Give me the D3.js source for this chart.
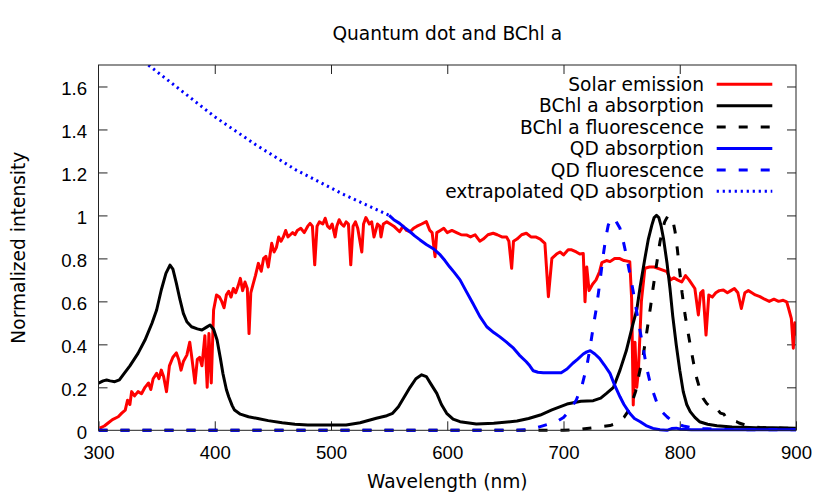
<!DOCTYPE html>
<html>
<head>
<meta charset="utf-8">
<script src="https://cdn.jsdelivr.net/npm/d3@7"></script>
<style>
  body { margin: 0; background: #fff; }
  svg { display: block; font-family: "DejaVu Sans", sans-serif; }
</style>
</head>
<body>
<svg width="830" height="498"></svg>
<script>
  // Series: [wavelength (nm), normalized intensity]
  const solar = [[301,0.01],[305,0.02],[308,0.033],[312,0.05],[317,0.063],[320,0.08],[323,0.094],[325,0.14],[327,0.12],[328.5,0.18],[331,0.16],[334,0.18],[337,0.17],[340,0.2],[343,0.22],[345,0.19],[347,0.24],[350,0.265],[352,0.24],[354,0.28],[356,0.25],[358.5,0.18],[361,0.3],[364,0.34],[367,0.36],[369,0.33],[371,0.28],[373,0.32],[376,0.35],[378.5,0.41],[380,0.35],[383,0.22],[385,0.33],[387,0.34],[389,0.3],[391.5,0.44],[393.5,0.2],[395,0.45],[397,0.22],[399,0.56],[401.5,0.63],[404,0.62],[406,0.6],[408,0.57],[410,0.63],[412,0.647],[414,0.62],[416,0.66],[418,0.64],[420,0.67],[422,0.707],[424,0.65],[426,0.69],[428,0.66],[429.5,0.45],[431,0.64],[433,0.68],[435,0.72],[437.5,0.777],[440,0.74],[442,0.8],[444,0.81],[446,0.76],[449,0.87],[451,0.83],[453,0.85],[455,0.9],[457,0.88],[459,0.9],[461,0.93],[463,0.9],[465,0.91],[467,0.92],[469,0.91],[471,0.93],[474,0.94],[477,0.92],[480,0.95],[482,0.963],[484,0.95],[486,0.77],[488,0.95],[490,0.97],[493,0.96],[495,0.987],[497,0.95],[499,0.94],[501,0.96],[503.5,0.9],[505,0.95],[507,0.98],[509,0.96],[511,0.95],[513,0.97],[515,0.96],[517,0.77],[519,0.95],[521,0.97],[523,0.94],[526.5,0.83],[528,0.96],[530,0.99],[533,0.96],[535,0.97],[537,0.9],[540,0.96],[542,0.95],[543,0.9],[545,0.96],[548,0.97],[551,0.96],[554,0.95],[559,0.924],[562,0.95],[565,0.93],[568,0.924],[571,0.94],[574,0.95],[578,0.96],[582,0.971],[585,0.93],[587,0.92],[589.5,0.808],[591,0.92],[594,0.93],[597,0.94],[600,0.92],[604,0.93],[608,0.92],[612,0.91],[616.5,0.909],[620,0.9],[624,0.91],[628,0.88],[631,0.89],[635,0.91],[639.5,0.917],[643,0.91],[647,0.9],[651,0.9],[653,0.88],[655.4,0.754],[657,0.88],[660,0.89],[664,0.91],[668,0.917],[672,0.9],[676,0.9],[680,0.89],[684,0.87],[687,0.622],[690,0.8],[694,0.82],[697,0.83],[700,0.816],[704,0.84],[707,0.84],[711,0.83],[714,0.82],[717,0.823],[718.5,0.598],[720,0.76],[722,0.65],[725,0.68],[728,0.7],[731,0.738],[733,0.78],[737,0.79],[740,0.785],[744,0.8],[748,0.8],[752,0.79],[757,0.785],[758.6,0.614],[760,0.118],[761.5,0.41],[763,0.2],[764.4,0.273],[767,0.6],[770,0.754],[774,0.76],[778,0.76],[783,0.75],[789,0.738],[792,0.7],[795,0.71],[798,0.7],[801.7,0.69],[805,0.72],[808,0.7],[813,0.66],[816,0.537],[818,0.64],[820,0.65],[822.6,0.443],[825,0.63],[828,0.62],[831,0.64],[834,0.65],[837.5,0.653],[841,0.64],[844,0.65],[847,0.66],[850,0.64],[853,0.567],[856,0.64],[859,0.65],[862,0.64],[865,0.63],[869,0.622],[873,0.61],[877,0.6],[881,0.61],[885,0.6],[889,0.605],[892,0.598],[894,0.56],[896,0.52],[897.7,0.382],[899,0.5],[900,0.44]];

  const bchlAbs = [[300,0.219],[304,0.23],[307,0.234],[310,0.23],[314,0.226],[318,0.235],[321,0.257],[327,0.3],[334,0.358],[340,0.42],[346,0.498],[350,0.56],[354,0.653],[358,0.73],[361.5,0.769],[364,0.75],[367,0.684],[370,0.61],[373,0.544],[376,0.505],[380,0.482],[385,0.472],[389,0.467],[393,0.48],[396,0.49],[399,0.47],[402,0.42],[405,0.33],[407,0.265],[410,0.19],[412,0.156],[415,0.115],[417,0.094],[422,0.075],[429,0.063],[437,0.055],[446,0.045],[458,0.035],[469,0.028],[480,0.025],[495,0.025],[513,0.025],[525,0.035],[539,0.056],[548,0.068],[553,0.079],[558,0.11],[563,0.155],[568,0.2],[573,0.24],[578,0.258],[582,0.25],[586,0.215],[591,0.172],[595,0.12],[599.5,0.079],[605,0.052],[611,0.04],[625,0.029],[640,0.033],[660,0.043],[670,0.055],[680,0.071],[690,0.095],[703,0.122],[715,0.135],[725.6,0.138],[732,0.15],[737,0.172],[743,0.2],[748.6,0.28],[754,0.37],[760,0.5],[763,0.56],[766,0.67],[770,0.8],[773,0.89],[776,0.955],[778,0.99],[780,1.0],[782,0.99],[784,0.95],[786,0.893],[789,0.78],[791.6,0.66],[794,0.53],[797,0.397],[800,0.28],[803,0.18],[806,0.12],[809,0.087],[813,0.06],[817,0.04],[824,0.028],[832,0.021],[845,0.015],[855,0.014],[865,0.012],[880,0.012],[890,0.011],[900,0.01]];

  const bchlFluo = [[300,0],[700,0],[715,0.005],[730,0.015],[740,0.022],[746,0.033],[752,0.06],[757,0.1],[762,0.18],[765,0.26],[768.6,0.35],[772,0.47],[775,0.58],[777,0.66],[780,0.77],[783,0.877],[785,0.93],[787,0.97],[789.5,0.995],[791.6,1.0],[794,0.98],[796,0.924],[798,0.84],[800,0.738],[802,0.64],[804.6,0.536],[807,0.46],[809,0.397],[812,0.31],[814.6,0.242],[818,0.18],[820,0.15],[823,0.126],[826,0.11],[829,0.095],[832,0.1],[835,0.08],[838,0.075],[840,0.057],[843,0.055],[846,0.045],[849,0.04],[851,0.034],[856,0.025],[860,0.02],[869,0.013],[880,0.011],[890,0.01],[900,0.01]];

  const qdAbs = [[550,1.0],[554,0.98],[559,0.963],[564,0.94],[568,0.924],[572,0.905],[576.6,0.886],[582,0.865],[588,0.845],[594,0.816],[598,0.79],[602,0.761],[606,0.735],[611,0.7],[616,0.65],[622,0.591],[628,0.53],[634,0.482],[640,0.455],[645,0.436],[651,0.41],[657,0.382],[662,0.35],[668,0.319],[671,0.3],[674,0.277],[678,0.27],[682.6,0.268],[690,0.268],[698,0.268],[703,0.285],[708,0.312],[712,0.33],[717,0.355],[720,0.365],[723,0.37],[727,0.355],[731,0.335],[735,0.305],[740,0.265],[744,0.21],[748.6,0.156],[752,0.12],[757,0.079],[761,0.055],[766,0.04],[771,0.022],[777,0.009],[783,0.003],[789,0.0],[793,0.008],[797,0.01],[801,0.005],[810,0.003],[830,0.002],[860,0.002],[900,0.002]];

  const qdFluo = [[300,0],[660,0],[672,0.005],[680,0.017],[688,0.03],[694,0.04],[700,0.06],[705,0.09],[711,0.141],[716,0.21],[720,0.296],[723,0.39],[725.6,0.482],[728,0.56],[730,0.637],[732,0.72],[734,0.808],[736.5,0.9],[738.5,0.955],[741.5,0.99],[744,0.985],[746,0.965],[748.6,0.94],[751,0.89],[754,0.816],[757,0.73],[760,0.645],[763,0.55],[766,0.459],[769,0.37],[771.6,0.289],[775,0.21],[780,0.133],[784,0.09],[789,0.063],[793,0.045],[797,0.033],[803,0.02],[810,0.012],[820,0.008],[840,0.004],[870,0.002],[900,0.002]];

  const qdExtra = [[300,1.9],[320,1.8],[342.8,1.7],[370,1.586],[400,1.459],[435,1.33],[470,1.211],[510,1.1],[550,1.0]];

  const xTicks = [300, 400, 500, 600, 700, 800, 900];
  const yTicks = [0, 0.2, 0.4, 0.6, 0.8, 1, 1.2, 1.4, 1.6];

  const series = [
    {name: "Solar emission", data: solar, color: "#ff0000", dash: null},
    {name: "BChl a absorption", data: bchlAbs, color: "#000000", dash: null},
    {name: "BChl a fluorescence", data: bchlFluo, color: "#000000", dash: "9,13"},
    {name: "QD absorption", data: qdAbs, color: "#0000ff", dash: null},
    {name: "QD fluorescence", data: qdFluo, color: "#0000ff", dash: "9,13"},
    {name: "extrapolated QD absorption", data: qdExtra, color: "#0000ff", dash: "2.2,3.8"}
  ];

  const fontSize = "18.6px";

  // Plot frame
  const pL = 98.5, pR = 796, pT = 65, pB = 430.3;

  const x = d3.scaleLinear().domain([300, 900]).range([pL, pR]);
  const y = d3.scaleLinear().domain([0, 1.7]).range([pB, pT]);

  const svg = d3.select("svg");

  // clip a little outside the frame, so lines lying on y = 0 keep their full width
  svg.append("clipPath").attr("id", "plot")
    .append("rect")
      .attr("x", pL).attr("y", pT)
      .attr("width", pR - pL).attr("height", pB - pT + 2);

  // Ticks (inward, mirrored on all four sides)
  const fmt = d => String(d);
  const tick = (g) => {
    g.select(".domain").remove();
    g.selectAll(".tick line").attr("stroke", "#222").attr("stroke-width", 1);
    g.selectAll("text").attr("fill", "#000").style("font-size", fontSize);
  };

  svg.append("g").attr("transform", `translate(0,${pB})`)
    .call(d3.axisBottom(x).tickValues(xTicks).tickFormat(fmt).tickSize(-9))
    .call(tick)
    .selectAll("text").attr("dy", 0).attr("y", 29.2);

  svg.append("g").attr("transform", `translate(0,${pT})`)
    .call(d3.axisTop(x).tickValues(xTicks.slice(1, -1)).tickFormat("").tickSize(-9))
    .call(tick);

  svg.append("g").attr("transform", `translate(${pL},0)`)
    .call(d3.axisLeft(y).tickValues(yTicks).tickFormat(fmt).tickSize(-9).tickPadding(11.5))
    .call(tick)
    .selectAll("text").attr("dy", "0.43em");

  svg.append("g").attr("transform", `translate(${pR},0)`)
    .call(d3.axisRight(y).tickValues(yTicks.slice(1)).tickFormat("").tickSize(-9))
    .call(tick);

  // Curves
  const line = d3.line().x(d => x(d[0])).y(d => y(d[1]));

  svg.append("g").attr("clip-path", "url(#plot)")
    .selectAll("path")
    .data(series)
    .join("path")
      .attr("d", d => line(d.data))
      .attr("fill", "none")
      .attr("stroke", d => d.color)
      .attr("stroke-width", 3)
      .attr("stroke-linejoin", "round")
      .attr("stroke-dasharray", d => d.dash);

  svg.append("rect")
    .attr("x", pL).attr("y", pT)
    .attr("width", pR - pL).attr("height", pB - pT)
    .attr("fill", "none").attr("stroke", "#222").attr("stroke-width", 1);

  // Legend
  const legend = svg.append("g")
      .style("font-size", fontSize)
    .selectAll("g")
    .data(series)
    .join("g")
      .attr("transform", (d, i) => `translate(0,${84.3 + i * 21.4})`);

  legend.append("text")
      .attr("x", 704)
      .attr("dy", "0.36em")
      .attr("text-anchor", "end")
      .text(d => d.name);

  legend.append("line")
      .attr("x1", 716.7).attr("x2", 772.3)
      .attr("stroke", d => d.color)
      .attr("stroke-width", 3)
      .attr("stroke-dasharray", d => d.dash);

  // Titles
  svg.append("text")
      .attr("x", (pL + pR) / 2).attr("y", 40)
      .attr("text-anchor", "middle")
      .style("font-size", fontSize)
      .text("Quantum dot and BChl a");

  svg.append("text")
      .attr("x", (pL + pR) / 2).attr("y", 488)
      .attr("text-anchor", "middle")
      .style("font-size", fontSize)
      .text("Wavelength (nm)");

  svg.append("text")
      .attr("transform", `translate(25,${(pT + pB) / 2}) rotate(-90)`)
      .attr("text-anchor", "middle")
      .style("font-size", fontSize)
      .text("Normalized intensity");
</script>
</body>
</html>
